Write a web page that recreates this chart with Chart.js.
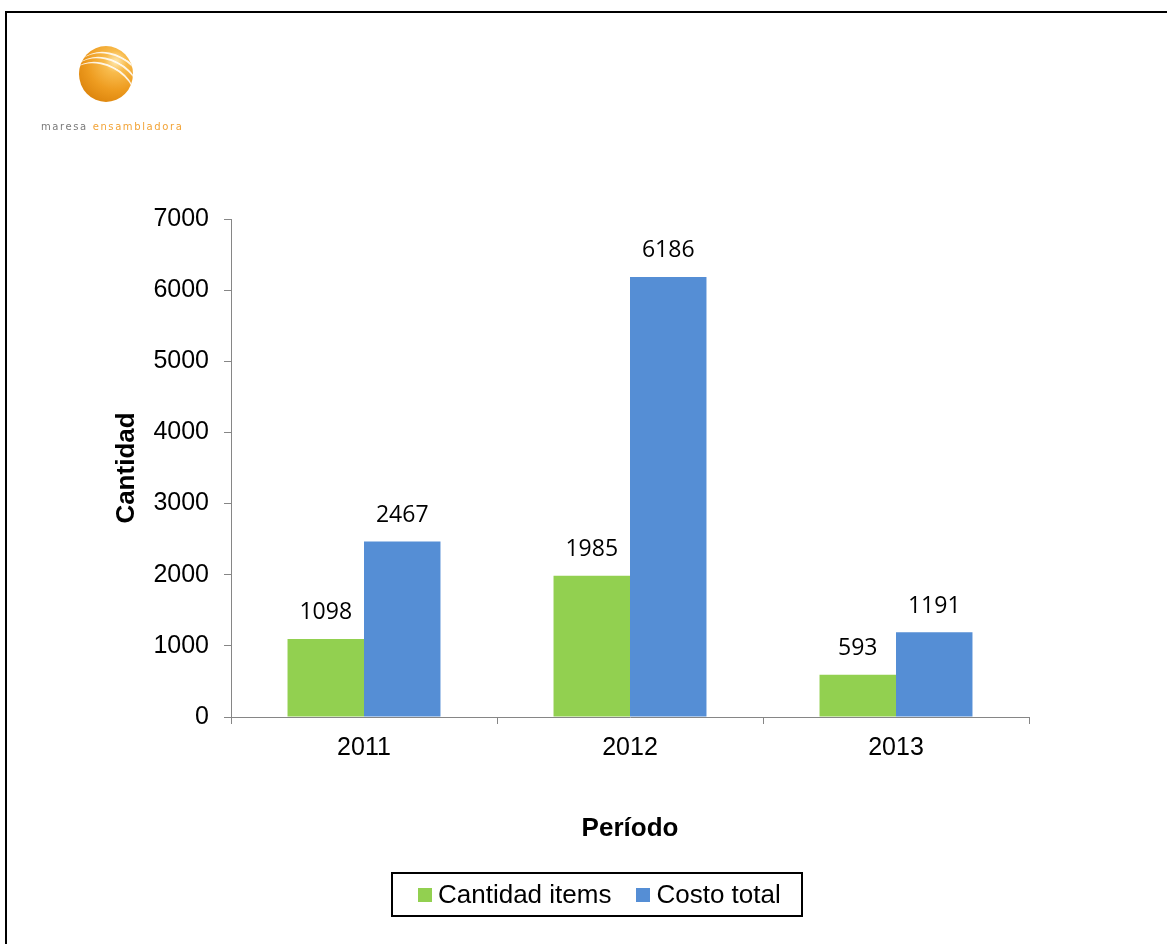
<!DOCTYPE html>
<html>
<head>
<meta charset="utf-8">
<title>Cantidad y costo total por período</title>
<script src="https://cdn.jsdelivr.net/npm/chart.js"></script>
<style>
	html, body { margin: 0; padding: 0; background: #fff; overflow: hidden; }
	#marco { position: absolute; left: 5px; top: 11px; width: 1300px; height: 1100px;
		border-left: 2px solid #000; border-top: 2px solid #000; }
	#grafico { position: absolute; left: 0; top: 0; }

	/* logo */
	.logo-esfera { position: absolute; left: 79px; top: 46px; width: 54px; height: 56px; border-radius: 50%;
		overflow: hidden;
		background: radial-gradient(circle at 68% 28%, #ffe9b0 0%, #f8bb4c 20%, #ee9c20 52%, #dc840c 82%, #c97306 100%); }
	.logo-esfera span { position: absolute; border-top: 2px solid rgba(255,255,255,0.85); border-radius: 50%;
		transform: rotate(28deg); }
	.logo-texto { position: absolute; left: 41px; top: 121px; font: 10px "DejaVu Sans", sans-serif;
		letter-spacing: 1.6px; color: #7a7a7a; white-space: nowrap; }
	.logo-texto b { font-weight: normal; color: #f2a336; }

	/* leyenda */
	#js-legend { position: absolute; left: 391px; top: 872px; width: 408px; height: 41px;
		border: 2px solid #000; box-sizing: content-box; overflow: hidden; }
	.chart-legend { list-style: none; margin: 0; padding: 0; display: flex; align-items: center;
		height: 100%; padding-left: 25px; white-space: nowrap; }
	.chart-legend li { display: flex; align-items: center; flex-shrink: 0; margin-right: 25px;
		font: 26px "Liberation Sans", Arial, sans-serif; color: #000; white-space: nowrap; }
	.chart-legend li span.caja { width: 14px; height: 14px; margin-right: 6px; display: inline-block; }
</style>
</head>
<body>
<div id="marco"></div>
<canvas id="grafico" width="1167" height="944"></canvas>

<div class="logo-esfera">
	<span style="left:-4px; top:8px; width:70px; height:50px;"></span>
	<span style="left:-8px; top:13px; width:70px; height:50px;"></span>
	<span style="left:-12px; top:18px; width:70px; height:50px;"></span>
</div>
<div class="logo-texto">maresa <b>ensambladora</b></div>

<div id="js-legend"></div>

<script>
// datos por período
var periodos      = ['2011', '2012', '2013'];
var cantidadItems = [1098, 1985, 593];
var costoTotal    = [2467, 6186, 1191];

var ejeMin  = 0,
	ejeMax  = 7000,
	ejePaso = 1000;

var colorVerde = '#92D050',
	colorAzul  = '#558ED5',
	colorEje   = '#868686';

var fuente = '"Liberation Sans", Arial, sans-serif';

// valores encima de cada barra
var etiquetasValor = {
	id: 'etiquetasValor',
	afterDatasetsDraw: function(chart) {
		var ctx = chart.ctx;
		ctx.save();
		ctx.font = '23px "Open Sans", sans-serif';
		ctx.fillStyle = '#000';
		ctx.textAlign = 'center';
		ctx.textBaseline = 'middle';
		chart.data.datasets.forEach(function(ds, i) {
			chart.getDatasetMeta(i).data.forEach(function(bar, j) {
				ctx.fillText(ds.data[j], bar.x, bar.y - 26);
			});
		});
		ctx.restore();
	}
};

var ctx = document.getElementById('grafico').getContext('2d');

var periodoChart = new Chart(ctx, {
	type: 'bar',
	data: {
		labels: periodos,
		datasets: [
			{ label: 'Cantidad items', data: cantidadItems, backgroundColor: colorVerde,
				categoryPercentage: 0.575, barPercentage: 1 },
			{ label: 'Costo total', data: costoTotal, backgroundColor: colorAzul,
				categoryPercentage: 0.575, barPercentage: 1 }
		]
	},
	plugins: [etiquetasValor],
	options: {
		responsive: false,
		animation: false,
		devicePixelRatio: 1,
		layout: { padding: { left: 107, top: 219, right: 138, bottom: 96 } },
		plugins: {
			legend: { display: false },
			tooltip: { enabled: false }
		},
		scales: {
			x: {
				offset: true,
				border: { color: colorEje, width: 1 },
				grid: { offset: true, drawOnChartArea: false, drawTicks: true, tickLength: 7, color: colorEje },
				ticks: { color: '#000', padding: 9, font: { family: fuente, size: 25 } },
				title: { display: true, text: 'Período', color: '#000',
					font: { family: fuente, size: 26, weight: 'bold' } },
				afterFit: function(scale) { scale.height = 131; }
			},
			y: {
				min: ejeMin,
				max: ejeMax,
				border: { color: colorEje, width: 1 },
				grid: { drawOnChartArea: false, drawTicks: true, tickLength: 7, color: colorEje },
				ticks: { stepSize: ejePaso, color: '#000', padding: 15, font: { family: fuente, size: 25 },
					callback: function(value) { return String(value); } },
				title: { display: true, text: 'Cantidad', color: '#000',
					font: { family: fuente, size: 26, weight: 'bold' } },
				afterFit: function(scale) { scale.width = 124; }
			}
		}
	}
});

// leyenda en html a partir de los datasets
var legendHtml = [];
legendHtml.push('<ul class="chart-legend">');
periodoChart.data.datasets.forEach(function(item) {
	legendHtml.push('<li>');
	legendHtml.push('<span class="caja" style="background-color:' + item.backgroundColor + '"></span>');
	legendHtml.push('<span>' + item.label + '</span>');
	legendHtml.push('</li>');
});
legendHtml.push('</ul>');
document.getElementById('js-legend').innerHTML = legendHtml.join('');
</script>
</body>
</html>
